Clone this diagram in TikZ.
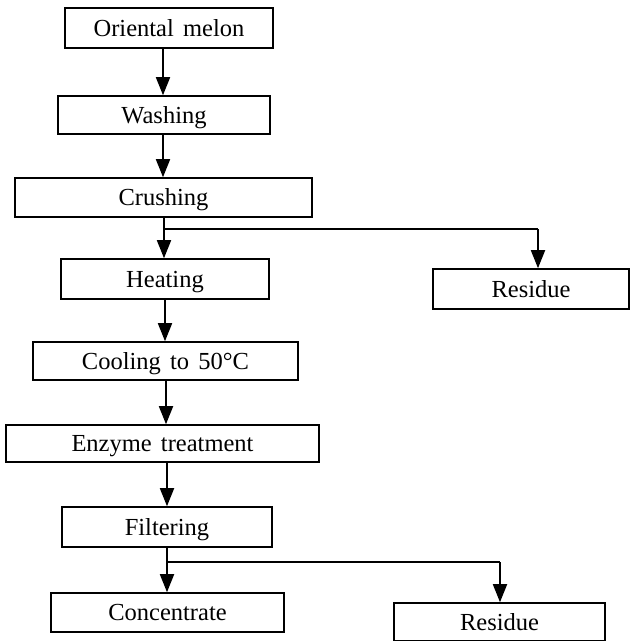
\documentclass[tikz,border=0pt]{standalone}
\usepackage{fontspec}
\setmainfont{Liberation Serif}[WordSpace=1.5]
\usetikzlibrary{arrows.meta}
\begin{document}
\begin{tikzpicture}[x=1pt,y=-1pt,
  box/.style={draw, line width=1.6pt, rectangle, inner sep=0pt, text height=16pt, text depth=0pt, font=\fontsize{24.5}{28}\selectfont},
  arr/.style={line width=1.8pt, -{Triangle[length=18pt,width=14pt]}},
  ln/.style={line width=1.5pt}]
\useasboundingbox (0,0) rectangle (630,641);
\node[box, minimum width=208pt, minimum height=40pt] (melon) at (169,28) {Oriental melon};
\node[box, minimum width=212pt, minimum height=38pt] (wash) at (164,115) {Washing};
\node[box, minimum width=297pt, minimum height=39pt] (crush) at (163.5,197.5) {Crushing};
\node[box, minimum width=208pt, minimum height=40pt] (heat) at (165,279) {Heating};
\node[box, minimum width=196pt, minimum height=40pt] (res1) at (531,289) {Residue};
\node[box, minimum width=265pt, minimum height=38pt] (cool) at (165.5,361) {Cooling to 50°C};
\node[box, minimum width=313pt, minimum height=37pt] (enz) at (162.5,443.5) {Enzyme treatment};
\node[box, minimum width=210pt, minimum height=40pt] (filt) at (167,527) {Filtering};
\node[box, minimum width=233pt, minimum height=39pt] (conc) at (167.5,612.5) {Concentrate};
\node[box, minimum width=211pt, minimum height=38pt] (res2) at (499.5,622) {Residue};
\coordinate (a1) at (163,0);
\coordinate (a2) at (165,0);
\coordinate (a3) at (166,0);
\coordinate (a4) at (167,0);
\coordinate (j1) at (164,229);
\coordinate (r1) at (538,229);
\coordinate (j2) at (167,562);
\coordinate (r2) at (500,562);
\draw[arr] (melon.south -| a1) -- (wash.north -| a1);
\draw[arr] (wash.south -| a1) -- (crush.north -| a1);
\draw[arr] (crush.south -| j1) -- (heat.north -| j1);
\draw[ln] (j1) -- (r1);
\draw[arr] (r1) -- (res1.north -| r1);
\draw[arr] (heat.south -| a2) -- (cool.north -| a2);
\draw[arr] (cool.south -| a3) -- (enz.north -| a3);
\draw[arr] (enz.south -| a4) -- (filt.north -| a4);
\draw[arr] (filt.south -| a4) -- (conc.north -| a4);
\draw[ln] (j2) -- (r2);
\draw[arr] (r2) -- (res2.north -| r2);
\end{tikzpicture}
\end{document}
